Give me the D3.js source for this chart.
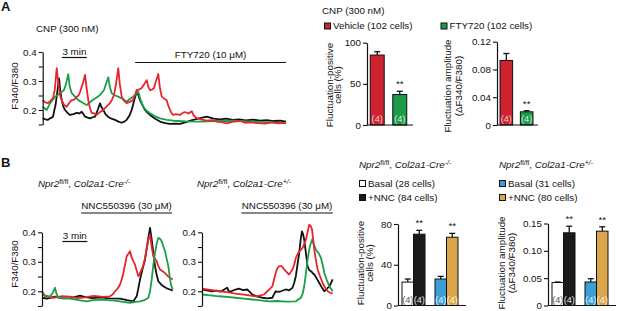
<!DOCTYPE html>
<html><head><meta charset="utf-8">
<script src="https://cdn.jsdelivr.net/npm/d3@7"></script>
<style>
body{margin:0;background:#fff}
svg{display:block}
text{font-family:'Liberation Sans',Arial,Helvetica,sans-serif;fill:#111}
</style>
</head><body>
<svg id="c" width="617" height="311"></svg>
<script>
// ---------------- DATA ----------------
// Panel A traces: [time (min), F340/F380]
const traceA_black = [[0,0.172],[0.3,0.168],[0.64,0.166],[0.95,0.172],[1.24,0.177],[1.4,0.2],[1.54,0.217],[1.68,0.246],[1.96,0.309],[2.1,0.27],[2.28,0.234],[2.48,0.212],[2.68,0.2],[2.98,0.19],[3.28,0.183],[3.7,0.186],[4.08,0.19],[4.4,0.188],[4.68,0.194],[4.9,0.185],[5.08,0.177],[5.4,0.174],[5.68,0.171],[6.0,0.175],[6.28,0.177],[6.6,0.2],[6.88,0.223],[7.05,0.21],[7.27,0.2],[7.55,0.185],[7.84,0.177],[8.25,0.17],[8.68,0.166],[9.1,0.16],[9.48,0.156],[9.8,0.16],[10.08,0.166],[10.4,0.18],[10.68,0.2],[11.0,0.235],[11.28,0.263],[11.5,0.25],[11.68,0.234],[12.0,0.215],[12.28,0.2],[12.6,0.19],[12.88,0.183],[13.5,0.17],[14.08,0.16],[14.7,0.155],[15.28,0.152],[15.9,0.153],[16.48,0.152],[17.2,0.158],[18.04,0.166],[18.9,0.172],[19.68,0.177],[20.5,0.17],[21.28,0.168],[22.0,0.17],[22.84,0.166],[23.6,0.168],[24.4,0.164],[25.2,0.167],[26.08,0.163],[26.9,0.165],[27.7,0.162],[28.5,0.163],[29.2,0.16]];
const traceA_green = [[0,0.211],[0.48,0.2],[0.88,0.223],[1.2,0.235],[1.48,0.246],[1.8,0.252],[2.08,0.258],[2.56,0.269],[2.8,0.29],[3.07,0.324],[3.25,0.28],[3.48,0.258],[3.9,0.245],[4.27,0.234],[4.8,0.225],[5.28,0.217],[5.8,0.23],[6.28,0.24],[6.6,0.246],[6.88,0.252],[7.36,0.269],[7.6,0.29],[7.87,0.313],[8.05,0.28],[8.28,0.258],[8.7,0.25],[9.07,0.246],[9.6,0.238],[10.08,0.229],[10.45,0.238],[10.87,0.246],[11.2,0.255],[11.47,0.263],[11.75,0.235],[12.07,0.211],[12.45,0.198],[12.88,0.189],[13.5,0.178],[14.08,0.171],[14.9,0.166],[15.67,0.163],[17.2,0.161],[18.88,0.16],[20.8,0.162],[22.84,0.163],[24.5,0.161],[26.08,0.159],[27.6,0.157],[29.2,0.154]];
const traceA_red = [[0,0.234],[0.3,0.226],[0.64,0.224],[0.95,0.232],[1.24,0.241],[1.45,0.27],[1.68,0.344],[1.85,0.3],[1.96,0.276],[2.1,0.25],[2.28,0.234],[2.55,0.218],[2.88,0.211],[3.2,0.225],[3.48,0.234],[3.8,0.236],[4.08,0.246],[4.3,0.25],[4.48,0.262],[4.8,0.29],[5.08,0.321],[5.25,0.28],[5.47,0.234],[5.68,0.205],[5.88,0.19],[6.2,0.188],[6.48,0.183],[6.85,0.192],[7.24,0.2],[7.6,0.21],[8.08,0.224],[8.3,0.235],[8.56,0.252],[8.8,0.29],[9.07,0.344],[9.25,0.29],[9.48,0.246],[9.75,0.232],[10.08,0.224],[10.45,0.228],[10.84,0.234],[11.05,0.25],[11.28,0.269],[11.55,0.27],[11.88,0.276],[12.2,0.29],[12.48,0.303],[12.68,0.28],[12.88,0.269],[13.1,0.27],[13.36,0.276],[13.6,0.3],[13.87,0.324],[14.05,0.28],[14.28,0.246],[14.55,0.24],[14.88,0.234],[15.08,0.215],[15.28,0.2],[15.45,0.19],[15.64,0.183],[16.0,0.186],[16.48,0.183],[16.8,0.19],[17.08,0.193],[17.5,0.188],[17.88,0.196],[18.1,0.182],[18.48,0.172],[19.0,0.168],[19.68,0.163],[20.3,0.165],[20.88,0.16],[21.5,0.158],[22.08,0.154],[22.9,0.16],[23.68,0.162],[24.3,0.156],[24.88,0.157],[25.8,0.155],[26.68,0.153],[27.5,0.157],[28.3,0.154],[29.2,0.156]];
const drugPeriodA = [11.1, 29.2];      // FTY720 application (min)
const scaleBarA = [2.3, 5.3];          // 3 min

// Panel B traces (Cre-/- and Cre+/-)
const traceB1_red = [[0,0.2],[0.36,0.183],[0.8,0.18],[1.36,0.178],[2.3,0.183],[3.36,0.182],[4.2,0.177],[5.16,0.179],[6.2,0.184],[7.36,0.181],[8.16,0.183],[8.5,0.19],[8.76,0.2],[9.1,0.21],[9.36,0.223],[9.56,0.24],[9.76,0.262],[10.0,0.295],[10.16,0.319],[10.56,0.336],[10.75,0.315],[10.96,0.302],[11.16,0.29],[11.36,0.27],[11.56,0.251],[11.76,0.262],[11.96,0.274],[12.16,0.29],[12.36,0.313],[12.56,0.345],[12.76,0.375],[12.96,0.392],[13.16,0.35],[13.36,0.319],[13.56,0.31],[13.76,0.302],[13.96,0.285],[14.16,0.274],[14.46,0.268],[14.76,0.262],[15.06,0.252],[15.36,0.245],[15.68,0.24]];
const traceB1_black = [[0,0.178],[0.6,0.175],[1.56,0.182],[2.4,0.176],[3.36,0.177],[4.0,0.181],[4.56,0.185],[5.2,0.18],[6.0,0.177],[6.96,0.179],[8.1,0.176],[9.36,0.175],[10.2,0.17],[10.96,0.166],[11.36,0.183],[11.56,0.21],[11.76,0.24],[12.06,0.275],[12.36,0.307],[12.72,0.375],[12.96,0.415],[13.16,0.375],[13.36,0.33],[13.56,0.285],[13.76,0.255],[13.96,0.234],[14.26,0.224],[14.56,0.217],[14.96,0.21],[15.36,0.206],[15.68,0.202]];
const traceB1_green = [[0,0.189],[0.5,0.185],[0.96,0.182],[1.3,0.195],[1.56,0.212],[1.76,0.19],[1.96,0.178],[2.6,0.176],[3.36,0.175],[4.4,0.17],[5.36,0.166],[6.1,0.17],[6.96,0.172],[7.8,0.17],[8.76,0.168],[9.7,0.164],[10.56,0.161],[11.2,0.164],[11.76,0.166],[12.3,0.17],[12.76,0.178],[12.96,0.2],[13.16,0.24],[13.36,0.29],[13.56,0.33],[13.76,0.362],[13.96,0.381],[14.16,0.378],[14.36,0.37],[14.56,0.352],[14.76,0.336],[14.96,0.31],[15.16,0.285],[15.36,0.24],[15.5,0.22],[15.68,0.206]];
const traceB2_red = [[0,0.209],[1.0,0.205],[2.0,0.2],[3.0,0.197],[4.0,0.192],[5.2,0.188],[6.4,0.183],[7.0,0.186],[7.4,0.189],[7.8,0.2],[8.1,0.208],[8.4,0.217],[8.6,0.24],[8.8,0.262],[9.0,0.278],[9.2,0.285],[9.53,0.285],[9.75,0.276],[10.0,0.268],[10.2,0.262],[10.4,0.257],[10.6,0.265],[10.8,0.274],[11.0,0.29],[11.2,0.313],[11.4,0.325],[11.6,0.336],[11.8,0.34],[12.0,0.347],[12.2,0.36],[12.4,0.375],[12.6,0.4],[12.8,0.426],[13.0,0.42],[13.13,0.409],[13.25,0.38],[13.4,0.341],[13.6,0.305],[13.8,0.274],[14.1,0.25],[14.4,0.228],[14.7,0.212],[15.0,0.2],[15.3,0.195],[15.6,0.192]];
const traceB2_black = [[0,0.206],[0.6,0.203],[1.2,0.2],[1.7,0.202],[2.24,0.199],[2.6,0.205],[3.0,0.212],[3.2,0.2],[3.44,0.199],[3.9,0.205],[4.4,0.209],[4.9,0.204],[5.4,0.206],[5.7,0.198],[6.0,0.189],[6.6,0.182],[7.2,0.178],[7.8,0.176],[8.4,0.178],[8.6,0.19],[8.8,0.2],[9.1,0.198],[9.4,0.2],[10.0,0.206],[10.4,0.203],[10.8,0.212],[11.0,0.228],[11.2,0.251],[11.4,0.29],[11.6,0.33],[11.8,0.38],[11.93,0.403],[12.05,0.395],[12.2,0.375],[12.4,0.33],[12.6,0.285],[12.8,0.272],[13.0,0.268],[13.2,0.262],[13.4,0.257],[13.7,0.243],[14.0,0.228],[14.3,0.213],[14.6,0.2],[14.9,0.208],[15.2,0.217],[15.4,0.228],[15.6,0.24]];
const traceB2_green = [[0,0.189],[1.0,0.186],[2.0,0.183],[3.0,0.181],[4.0,0.178],[5.0,0.175],[6.0,0.172],[7.0,0.169],[8.0,0.166],[9.0,0.167],[10.0,0.165],[11.2,0.166],[11.8,0.178],[12.0,0.19],[12.2,0.217],[12.4,0.26],[12.6,0.307],[12.85,0.35],[13.13,0.375],[13.35,0.36],[13.6,0.341],[13.9,0.33],[14.2,0.313],[14.4,0.29],[14.6,0.262],[14.9,0.238],[15.2,0.217],[15.6,0.2]];
const drugPeriodB = [4.7, 15.6];       // NNC550396 application (min)
const scaleBarB = [2.44, 5.44];        // 3 min

const traceTicks = [0.15, 0.2, 0.25, 0.3, 0.35, 0.4];
const traceTickLabels = [0.2, 0.3, 0.4];

// Panel A bars
const groupsA = ['Vehicle (102 cells)', 'FTY720 (102 cells)'];
const positiveA = [85, 37];
const positiveErrA = [4, 4];
const amplitudeA = [0.093, 0.019];
const amplitudeErrA = [0.010, 0.0015];
const nA = ['(4)', '(4)'];
const sigA = ['', '**'];
const ticksPositiveA = [0, 50, 100];
const ticksAmplitudeA = [0, 0.04, 0.08, 0.12];

// Panel B bars
const genotypesB = ['Cre-/-', 'Cre+/-'];
const conditionsB = ['Basal', '+NNC'];
const legendB1 = ['Basal (28 cells)', '+NNC (84 cells)'];
const legendB2 = ['Basal (31 cells)', '+NNC (80 cells)'];
const positiveB = [23, 70, 26, 67];
const positiveErrB = [3, 3.8, 2.6, 3.8];
const amplitudeB = [0.042, 0.133, 0.043, 0.136];
const amplitudeErrB = [0.001, 0.012, 0.006, 0.008];
const nB = ['(4)', '(4)', '(4)', '(4)'];
const sigB = ['', '**', '', '**'];
const ticksPositiveB = [0, 40, 80];
const ticksAmplitudeB = [0, 0.05, 0.10, 0.15];

// ---------------- STYLE ----------------
const C = {
  tRed: '#e7252c', tGreen: '#1a9f4a', tBlack: '#111',
  barRed: '#cf2231', barGreen: '#1f9a4b', barWhite: '#ffffff', barBlack: '#1b1b1b',
  barBlue: '#3b9fd5', barGold: '#dba54b'
};
const FS = 9.8;
const svg = d3.select('#c');

function text(x, y, s, o = {}) {
  const t = svg.append('text').attr('x', x).attr('y', y).attr('font-size', o.size || FS)
    .attr('text-anchor', o.anchor || 'start').text(s);
  if (o.weight) t.attr('font-weight', o.weight);
  if (o.fill) t.style('fill', o.fill);
  if (o.rotate) t.attr('transform', `rotate(-90,${x},${y})`);
  return t;
}
function styleAxis(g) {
  g.attr('font-family', null).attr('font-size', null);
  g.selectAll('.domain').attr('stroke', '#111').attr('stroke-width', 1.2);
  g.selectAll('.tick line').attr('stroke', '#111').attr('stroke-width', 1.1);
  g.selectAll('.tick text').attr('font-size', FS).style('fill', '#111');
}
function genoTitle(x, y, sup) {
  const t = svg.append('text').attr('x', x).attr('y', y).attr('font-size', FS).attr('font-style', 'italic');
  t.append('tspan').text('Npr2');
  t.append('tspan').attr('dy', -3.5).attr('font-size', 7).attr('font-style', 'normal').text('fl/fl');
  t.append('tspan').attr('dy', 3.5).attr('font-style', 'normal').text(', ');
  t.append('tspan').text('Col2a1-Cre');
  t.append('tspan').attr('dy', -3.5).attr('font-size', 7).text(sup);
}

// ---------------- TRACE PANELS ----------------
function tracePanel(cfg) {
  const x = d3.scaleLinear().domain(cfg.tDomain).range(cfg.xRange);
  const y = d3.scaleLinear().domain([0.15, 0.4]).range(cfg.yRange);
  const line = d3.line().x(d => x(d[0])).y(d => y(d[1]));
  cfg.series.forEach(s => {
    svg.append('path').datum(s.data).attr('d', line).attr('fill', 'none')
      .attr('stroke', s.color).attr('stroke-width', 1.8).attr('stroke-linejoin', 'round');
  });
  const g = svg.append('g').attr('transform', `translate(${cfg.xRange[0]},0)`)
    .call(d3.axisLeft(y).tickValues(traceTicks).tickSize(4).tickSizeOuter(0).tickPadding(2)
      .tickFormat(d => traceTickLabels.some(v => Math.abs(v - d) < 1e-9) ? d3.format('.1f')(d) : ''));
  styleAxis(g);
  svg.append('line').attr('x1', x(cfg.drug[0])).attr('x2', x(cfg.drug[1]))
    .attr('y1', cfg.drugY).attr('y2', cfg.drugY).attr('stroke', '#111').attr('stroke-width', 1.1);
  text((x(cfg.drug[0]) + x(cfg.drug[1])) / 2, cfg.drugY - 4.5, cfg.drugLabel, { anchor: 'middle' });
  if (cfg.scaleBar) {
    svg.append('line').attr('x1', x(cfg.scaleBar[0])).attr('x2', x(cfg.scaleBar[1]))
      .attr('y1', cfg.scaleY).attr('y2', cfg.scaleY).attr('stroke', '#111').attr('stroke-width', 1.2);
    text((x(cfg.scaleBar[0]) + x(cfg.scaleBar[1])) / 2, cfg.scaleY - 2.5, '3 min', { anchor: 'middle' });
  }
  if (cfg.yLabel) text(cfg.yLabel[0], cfg.yLabel[1], 'F340/F380', { anchor: 'middle', rotate: true });
}

tracePanel({ tDomain: [0, 29.2], xRange: [42.7, 286], yRange: [124.5, 52],
  series: [{ data: traceA_black, color: C.tBlack }, { data: traceA_green, color: C.tGreen }, { data: traceA_red, color: C.tRed }],
  drug: drugPeriodA, drugY: 62.5, drugLabel: 'FTY720 (10 μM)', scaleBar: scaleBarA, scaleY: 57.5, yLabel: [18, 86] });

tracePanel({ tDomain: [0, 15.68], xRange: [42, 172.7], yRange: [306, 232.3],
  series: [{ data: traceB1_black, color: C.tBlack }, { data: traceB1_red, color: C.tRed }, { data: traceB1_green, color: C.tGreen }],
  drug: drugPeriodB, drugY: 213, drugLabel: 'NNC550396 (30 μM)', scaleBar: scaleBarB, scaleY: 241.5, yLabel: [18, 264] });

tracePanel({ tDomain: [0, 15.6], xRange: [202, 332.7], yRange: [306, 232.3],
  series: [{ data: traceB2_black, color: C.tBlack }, { data: traceB2_green, color: C.tGreen }, { data: traceB2_red, color: C.tRed }],
  drug: drugPeriodB, drugY: 213, drugLabel: 'NNC550396 (30 μM)' });

// ---------------- BAR CHARTS ----------------
function barChart(cfg) {
  const y = d3.scaleLinear().domain(cfg.yDomain).range(cfg.yRange);
  const y0 = y(0);
  const bars = cfg.values.map((v, i) => ({ v, e: cfg.errs[i], c: cfg.colors[i], n: cfg.n[i], nc: cfg.nColors[i], s: cfg.sig[i], x: cfg.xPos(i), w: cfg.bw }));
  bars.forEach(b => {
    svg.append('rect').attr('x', b.x).attr('y', y(b.v)).attr('width', b.w).attr('height', y0 - y(b.v))
      .attr('fill', b.c).attr('stroke', '#111').attr('stroke-width', 1);
    const cx = b.x + b.w / 2;
    svg.append('line').attr('x1', cx).attr('x2', cx).attr('y1', y(b.v)).attr('y2', y(b.v + b.e))
      .attr('stroke', '#111').attr('stroke-width', 1.3);
    svg.append('line').attr('x1', cx - 3).attr('x2', cx + 3).attr('y1', y(b.v + b.e)).attr('y2', y(b.v + b.e))
      .attr('stroke', '#111').attr('stroke-width', 1.3);
    text(cx, y0 - 3, b.n, { anchor: 'middle', size: 9.2, fill: b.nc });
    if (b.s) text(cx, y(b.v + b.e) - 4, b.s, { anchor: 'middle' });
  });
  const g = svg.append('g').attr('transform', `translate(${cfg.axisX},0)`)
    .call(d3.axisLeft(y).tickValues(cfg.ticks).tickSize(4).tickSizeOuter(0).tickPadding(2).tickFormat(cfg.fmt));
  styleAxis(g);
  svg.append('line').attr('x1', cfg.axisX).attr('x2', cfg.xEnd).attr('y1', y0).attr('y2', y0)
    .attr('stroke', '#111').attr('stroke-width', 1.2);
  cfg.label.forEach(l => text(l[0], cfg.labelY, l[1], { anchor: 'middle', rotate: true }));
}
const fmtDec = d => d === 0 ? '0' : d3.format('.2f')(d);

// A bars
const xA1 = d3.scaleBand().domain(groupsA).range([368, 409]).paddingInner(0.38).paddingOuter(0.1);
barChart({ values: positiveA, errs: positiveErrA, colors: [C.barRed, C.barGreen], n: nA, nColors: ['#f6c9ce', '#d3eedb'], sig: sigA,
  xPos: i => xA1(groupsA[i]), bw: xA1.bandwidth(), yDomain: [0, 100], yRange: [125, 42.7], ticks: ticksPositiveA, fmt: d3.format('d'),
  axisX: 367, xEnd: 413, label: [[332.5, 'Fluctuation-positive'], [341, 'cells (%)']], labelY: 85 });
const xA2 = d3.scaleBand().domain(groupsA).range([498, 535]).paddingInner(0.38).paddingOuter(0.1);
barChart({ values: amplitudeA, errs: amplitudeErrA, colors: [C.barRed, C.barGreen], n: nA, nColors: ['#f6c9ce', '#d3eedb'], sig: sigA,
  xPos: i => xA2(groupsA[i]), bw: xA2.bandwidth(), yDomain: [0, 0.12], yRange: [125, 41.7], ticks: ticksAmplitudeA, fmt: fmtDec,
  axisX: 497, xEnd: 538, label: [[450.5, 'Fluctuation amplitude'], [462, '(ΔF340/F380)']], labelY: 86 });

// B bars
function groupedX(range) {
  const outer = d3.scaleBand().domain(genotypesB).range(range).paddingInner(0.303);
  const inner = d3.scaleBand().domain(conditionsB).range([0, outer.bandwidth()]);
  return { pos: i => outer(genotypesB[Math.floor(i / 2)]) + inner(conditionsB[i % 2]), bw: inner.bandwidth() };
}
const colorsB = [C.barWhite, C.barBlack, C.barBlue, C.barGold];
const nColorsB = ['#555', '#e6e6e6', '#eef6fb', '#fff6e6'];
const gB1 = groupedX([402, 458]);
barChart({ values: positiveB, errs: positiveErrB, colors: colorsB, n: nB, nColors: nColorsB, sig: sigB,
  xPos: gB1.pos, bw: gB1.bw, yDomain: [0, 80], yRange: [305.5, 224], ticks: ticksPositiveB, fmt: d3.format('d'),
  axisX: 398, xEnd: 466, label: [[364, 'Fluctuation-positive'], [373, 'cells (%)']], labelY: 263 });
const gB2 = groupedX([552, 608]);
barChart({ values: amplitudeB, errs: amplitudeErrB, colors: colorsB, n: nB, nColors: nColorsB, sig: sigB,
  xPos: gB2.pos, bw: gB2.bw, yDomain: [0, 0.15], yRange: [305.5, 223.5], ticks: ticksAmplitudeB, fmt: fmtDec,
  axisX: 548, xEnd: 616, label: [[505, 'Fluctuation amplitude'], [515, '(ΔF340/F380)']], labelY: 263 });

// ---------------- TEXT / LEGENDS ----------------
text(1, 11, 'A', { size: 13, weight: 'bold' });
text(1, 167, 'B', { size: 13, weight: 'bold' });
text(36, 32, 'CNP (300 nM)');
text(322, 14, 'CNP (300 nM)');
function legendItem(x, yc, color, label) {
  svg.append('rect').attr('x', x).attr('y', yc - 3).attr('width', 6).attr('height', 6)
    .attr('fill', color).attr('stroke', '#111').attr('stroke-width', 1);
  text(x + 8.5, yc + 3.4, label);
}
legendItem(324.5, 26, C.barRed, groupsA[0]);
legendItem(441, 26, C.barGreen, groupsA[1]);

genoTitle(38, 187, '-/-');
genoTitle(197, 187, '+/-');
genoTitle(359, 168, '-/-');
genoTitle(499, 168, '+/-');
legendItem(359.5, 183.5, C.barWhite, legendB1[0]);
legendItem(359.5, 197.5, C.barBlack, legendB1[1]);
legendItem(499.5, 183.5, C.barBlue, legendB2[0]);
legendItem(499.5, 197.5, C.barGold, legendB2[1]);
</script>
</body></html>
